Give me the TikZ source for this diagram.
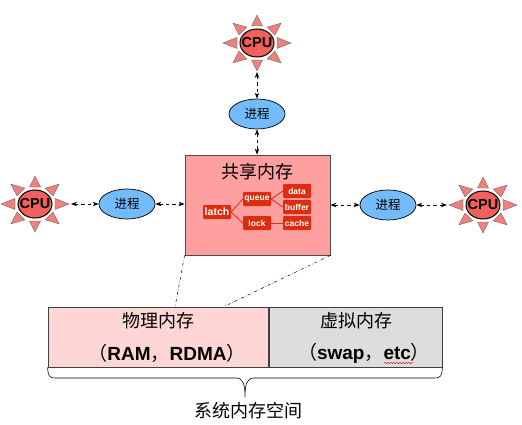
\documentclass[tikz,border=0pt]{standalone}
\usepackage{fontspec}
\setmainfont{Liberation Sans}
\newfontfamily\cjk{Noto Sans CJK SC}
\definecolor{sunred}{RGB}{240,128,124}
\definecolor{corered}{RGB}{240,96,92}
\definecolor{procblue}{RGB}{116,187,251}
\definecolor{shmpink}{RGB}{255,160,160}
\definecolor{physpink}{RGB}{255,214,214}
\definecolor{virtgrey}{RGB}{221,221,221}
\definecolor{tagred}{RGB}{222,44,16}
\usetikzlibrary{shapes.geometric, arrows.meta, decorations.pathmorphing}

\begin{document}
\begin{tikzpicture}[
  x=1pt, y=-1pt,
  core/.style={ellipse, draw, line width=1pt, fill=corered, minimum width=34pt, minimum height=28pt, inner sep=-5pt, font=\bfseries\fontsize{14.5}{16}\selectfont},
  proc/.style={ellipse, draw, line width=0.7pt, fill=procblue, minimum width=56pt, minimum height=30pt, inner sep=0pt, font=\cjk\fontsize{12.5}{14}\selectfont},
  shm/.style={draw=black!70, line width=0.8pt, fill=shmpink, minimum width=145pt, minimum height=100pt, inner sep=0pt},
  tag/.style={fill=tagred, rounded corners=1pt, text=white, minimum width=28pt, minimum height=14pt, inner sep=0pt, font=\bfseries\fontsize{8.5}{10}\selectfont},
  store/.style={draw=black!75, line width=0.7pt, minimum height=60pt, inner sep=0pt},
  lbl/.style={font=\fontsize{19}{22}\selectfont},
  cjklbl/.style={font=\cjk\fontsize{18}{20}\selectfont},
  arr/.style={{Stealth[length=6pt]}-{Stealth[length=6pt]}, dash pattern=on 3.5pt off 3pt, line width=0.9pt},
  treeln/.style={draw=tagred, line width=0.8pt},
  cut/.style={dash dot, line width=0.5pt},
  sun/.pic={
    \foreach \ang in {0,45,...,315}{
      \draw[black!60, line width=0.4pt, fill=sunred]
        ({34*cos(\ang)},{28*sin(\ang)})
        -- ({20*cos(\ang)-5.5*sin(\ang)},{17*sin(\ang)+5.5*cos(\ang)})
        -- ({20*cos(\ang)+5.5*sin(\ang)},{17*sin(\ang)-5.5*cos(\ang)}) -- cycle;
    }
    \node[core] (-core) at (0,0) {CPU};
    \coordinate (-s) at (0,29);
    \coordinate (-e) at (36,0);
    \coordinate (-w) at (-36,0);
  }
]
\useasboundingbox (0,0) rectangle (522,425);

\pic (cputop) at (257,43) {sun};
\pic (cpuleft) at (35,204) {sun};
\pic (cpuright) at (483,205) {sun};

\node[proc] (proctop) at (257,114) {进程};
\node[proc] (procleft) at (127,204) {进程};
\node[proc] (procright) at (388,205) {进程};

\node[shm] (shm) at (257.5,205) {};
\node[font=\cjk\fontsize{18}{20}\selectfont] (shmtitle) at (257,172) {共享内存};

\node[tag, font=\bfseries\fontsize{10.5}{12}\selectfont] (latch) at (217,212) {latch};
\node[tag] (queue) at (257,199) {queue};
\node[tag] (lock) at (257,223) {lock};
\node[tag] (data) at (297,191) {data};
\node[tag] (buffer) at (297,207) {buffer};
\node[tag] (cache) at (297,223) {cache};

\draw[treeln] (latch.east) -- (queue.west);
\draw[treeln] (latch.east) -- (lock.west);
\draw[treeln] (queue.east) -- (data.west);
\draw[treeln] (queue.east) -- (buffer.west);
\draw[treeln] (lock.east) -- (cache.west);

\node[store, fill=physpink, minimum width=220pt] (phys) at (158,337) {};
\node[store, fill=virtgrey, minimum width=173pt] (virt) at (355.5,337) {};

\node[cjklbl] (physname) at (158,321) {物理内存};
\node[cjklbl] (virtname) at (356,321) {虚拟内存};
\node[lbl] (physkind) at (167,353) {{\cjk （}\textbf{RAM}{\cjk ，}\textbf{RDMA}{\cjk ）}};
\node[lbl] (virtkind) at (364,353) {{\cjk （}\textbf{swap}{\cjk ，}\textbf{etc}{\cjk ）}};
\node[cjklbl] (space) at (248,411) {系统内存空间};

\coordinate (cuta) at (175,307);
\coordinate (cutb) at (225,306);
\coordinate (bracetip) at (245,397);
\coordinate (squigl) at (384,363);
\coordinate (squigr) at (413,363);

\draw[arr] (cputop-s) -- (proctop);
\draw[arr] (proctop) -- (proctop |- shm.north);
\draw[arr] (cpuleft-e) -- (procleft);
\draw[arr] (procleft) -- (procleft -| shm.west);
\draw[arr] (procright -| shm.east) -- (procright);
\draw[arr] (procright) -- (cpuright-w);

\draw[cut] (shm.south west) -- (cuta);
\draw[cut] (shm.south east) -- (cutb);

\draw[line width=0.6pt] (phys.south west) .. controls (48,376) and (49,378) .. (56,378)
  -- (236,378) .. controls (243,378) and (245,384) .. (bracetip)
  .. controls (245,384) and (247,378) .. (254,378)
  -- (434,378) .. controls (441,378) and (442,376) .. (virt.south east);

\draw[red!80!black, line width=0.4pt, decorate, decoration={snake, amplitude=0.6pt, segment length=3pt}] (squigl) -- (squigr);

\end{tikzpicture}
\end{document}
